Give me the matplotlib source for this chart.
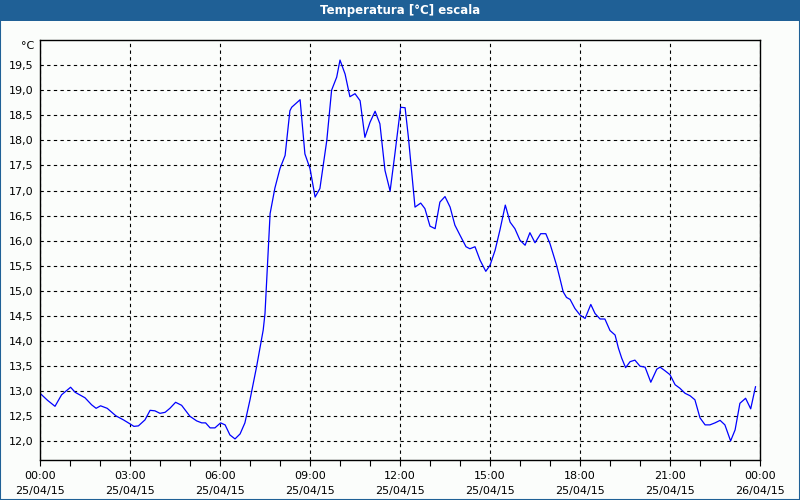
import matplotlib
matplotlib.use("Agg")
import matplotlib.pyplot as plt
from matplotlib.patches import Rectangle

# hours since 25/04/15 00:00 and temperature in degrees C
hours = [0.0, 0.25, 0.5, 0.72, 1.02, 1.17, 1.5, 1.72, 1.87, 2.02, 2.24, 2.53, 2.78,
         3.0, 3.13, 3.28, 3.5, 3.67, 3.83, 4.0, 4.17, 4.33, 4.52, 4.72, 5.0, 5.22,
         5.39, 5.52, 5.67, 5.83, 6.02, 6.17, 6.33, 6.5, 6.67, 6.83, 7.0, 7.22, 7.44,
         7.5, 7.58, 7.67, 7.83, 8.0, 8.17, 8.33, 8.39, 8.67, 8.83, 9.0, 9.17, 9.33,
         9.56, 9.72, 9.89, 10.0, 10.17, 10.33, 10.5, 10.67, 10.83, 11.0, 11.17, 11.33,
         11.5, 11.67, 11.83, 12.02, 12.17, 12.28, 12.5, 12.69, 12.83, 13.0, 13.17,
         13.33, 13.5, 13.67, 13.83, 14.0, 14.2, 14.33, 14.5, 14.67, 14.86, 15.0,
         15.17, 15.33, 15.51, 15.67, 15.83, 16.0, 16.17, 16.33, 16.5, 16.69, 16.86,
         17.0, 17.22, 17.33, 17.44, 17.55, 17.67, 17.83, 18.0, 18.17, 18.36, 18.5,
         18.67, 18.83, 19.0, 19.17, 19.28, 19.39, 19.52, 19.67, 19.83, 20.0, 20.17,
         20.36, 20.56, 20.67, 20.83, 21.0, 21.17, 21.33, 21.5, 21.67, 21.83, 22.0,
         22.17, 22.33, 22.5, 22.67, 22.83, 23.02, 23.17, 23.33, 23.52, 23.69, 23.85]
temps = [12.96, 12.82, 12.70, 12.93, 13.08, 12.98, 12.87, 12.73, 12.66, 12.71, 12.66,
         12.51, 12.43, 12.35, 12.30, 12.31, 12.43, 12.62, 12.61, 12.56, 12.58, 12.66,
         12.78, 12.72, 12.50, 12.41, 12.37, 12.37, 12.27, 12.27, 12.37, 12.33, 12.13,
         12.05, 12.15, 12.37, 12.83, 13.49, 14.22, 14.55, 15.48, 16.54, 17.05, 17.44,
         17.70, 18.59, 18.66, 18.81, 17.73, 17.44, 16.87, 17.04, 18.0, 19.0, 19.26,
         19.60, 19.32, 18.87, 18.93, 18.79, 18.06, 18.36, 18.58, 18.33, 17.40, 16.99,
         17.73, 18.66, 18.65, 18.06, 16.67, 16.75, 16.64, 16.29, 16.24, 16.77, 16.88,
         16.67, 16.31, 16.11, 15.88, 15.84, 15.88, 15.61, 15.39, 15.51, 15.81, 16.21,
         16.71, 16.37, 16.24, 16.01, 15.91, 16.16, 15.96, 16.14, 16.14, 15.94, 15.51,
         15.25, 14.98, 14.87, 14.83, 14.65, 14.52, 14.45, 14.73, 14.55, 14.44, 14.44,
         14.21, 14.12, 13.86, 13.66, 13.47, 13.59, 13.62, 13.50, 13.48, 13.18, 13.44,
         13.48, 13.41, 13.33, 13.13, 13.06, 12.96, 12.91, 12.83, 12.47, 12.33, 12.33,
         12.37, 12.42, 12.33, 12.01, 12.23, 12.76, 12.86, 12.65, 13.09]

x_ticks = [0, 3, 6, 9, 12, 15, 18, 21, 24]
x_labels = ["00:00\n25/04/15", "03:00\n25/04/15", "06:00\n25/04/15",
            "09:00\n25/04/15", "12:00\n25/04/15", "15:00\n25/04/15",
            "18:00\n25/04/15", "21:00\n25/04/15", "00:00\n26/04/15"]
y_ticks = [12.0 + 0.5 * i for i in range(16)]

bar_blue = "#1f6096"
bg = "#fbfdfb"

fig = plt.figure(figsize=(8, 5), dpi=100, facecolor=bg)

# title bar and outer border
fig.patches.append(Rectangle((0, 0.958), 1, 0.042, transform=fig.transFigure,
                             facecolor=bar_blue, edgecolor="none", zorder=0))
fig.patches.append(Rectangle((0.0006, 0.001), 0.9988, 0.998, transform=fig.transFigure,
                             facecolor="none", edgecolor=bar_blue, linewidth=1.5, zorder=0))
fig.text(0.5, 0.979, "Temperatura [°C] escala", color="white", fontsize=8.5,
         fontweight="bold", ha="center", va="center")

ax = fig.add_axes([0.05, 0.08, 0.90, 0.84], facecolor=bg)
ax.plot(hours, temps, color="#0000ff", linewidth=0.9)

ax.set_xlim(0, 24)
ax.set_ylim(11.63, 20.0)
ax.set_xticks(x_ticks)
ax.set_xticklabels(x_labels, fontsize=8, linespacing=1.55)
ax.set_xticks(range(25), minor=True)
ax.set_yticks(y_ticks)
ax.set_yticklabels([f"{v:.1f}".replace(".", ",") for v in y_ticks], fontsize=8)

ax.tick_params(axis="x", which="both", length=4, width=0.8, direction="out", pad=4)
ax.tick_params(axis="y", length=0, pad=5)
ax.grid(True, which="major", color="black", linestyle=(0, (3, 3)), linewidth=0.8)
for s in ax.spines.values():
    s.set_color("black")
    s.set_linewidth(1.0)

fig.text(0.035, 0.908, "°C", fontsize=8, ha="center", va="center")

fig.savefig("out.png", dpi=100, facecolor=bg)
